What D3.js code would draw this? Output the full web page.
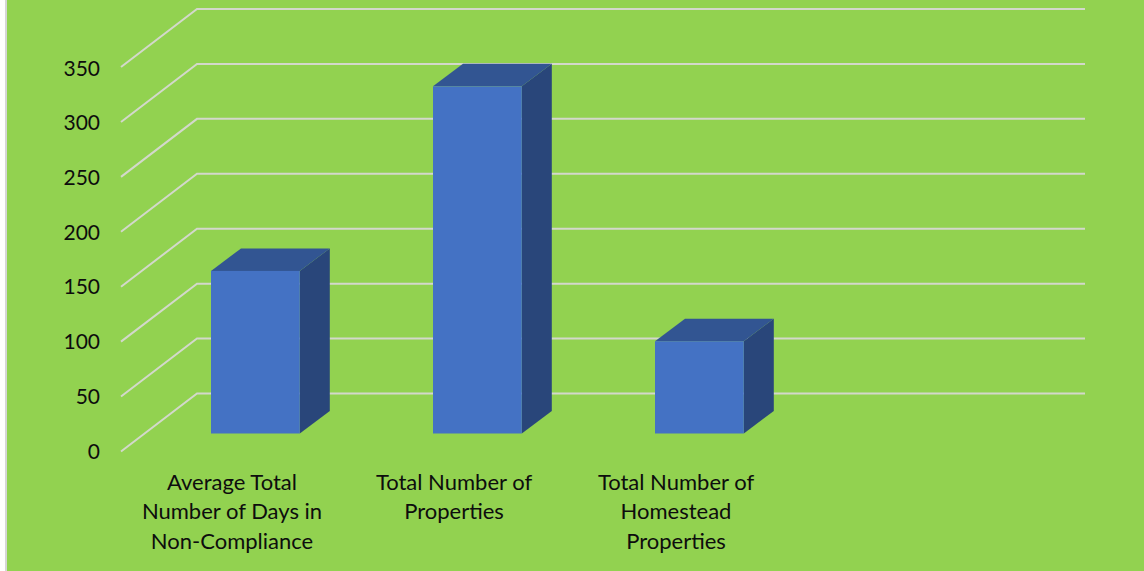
<!DOCTYPE html>
<html>
<head>
<meta charset="utf-8">
<script src="https://d3js.org/d3.v7.min.js"></script>
<style>
  html, body { margin: 0; padding: 0; background: #fff; overflow: hidden; }
  text { font-family: Lato, "Open Sans", sans-serif; fill: #0d0d0d; }
</style>
</head>
<body>
<div id="chart"></div>
<script>
// chart data
var categories = ["Average Total Number of Days in Non-Compliance", "Total Number of Properties", "Total Number of Homestead Properties", ""];
var catLines = [["Average Total", "Number of Days in", "Non-Compliance"], ["Total Number of", "Properties"], ["Total Number of", "Homestead", "Properties"], []];
var values = [148, 316, 84];
var yTicks = [0, 50, 100, 150, 200, 250, 300, 350];

var width = 1144, height = 571;
var green = "#92d250", gridColor = "#d3d8cb";
var front = "#4472c4", topFace = "#325592", sideFace = "#29467a";

// the walls: front edge of the floor and how far back it goes
var plot = {left: 121, right: 1009, y0: 451.5, y350: 67};
var depth = {x: 76, y: -58};
var inset = {x: 23.4, y: -18};
var barDepth = {x: 30, y: -22.5};

var svg = d3.select("#chart").append("svg")
    .attr("width", width)
    .attr("height", height)
    .style("display", "block");

svg.append("rect").attr("x", 5).attr("y", 0).attr("width", width - 5).attr("height", height).attr("fill", "#d6d6d6");
svg.append("rect").attr("x", 7).attr("y", 0).attr("width", width - 7).attr("height", height).attr("fill", green);

var x = d3.scaleBand()
    .domain(categories)
    .range([plot.left, plot.right])
    .paddingInner(0.6)
    .paddingOuter(0.3);

var y = d3.scaleLinear()
    .domain([0, 350])
    .range([plot.y0, plot.y350]);

// tick labels sit a little tighter than the gridlines
var yLabel = d3.scaleLinear()
    .domain([0, 350])
    .range([458.5, 75.5]);

var line = d3.line();

// gridlines: up the side wall then along the back wall
svg.append("g").selectAll("path")
    .data(yTicks)
    .enter().append("path")
    .attr("fill", "none")
    .attr("stroke", gridColor)
    .attr("stroke-width", 2)
    .attr("d", function(d) {
      return line([
        [plot.left, y(d)],
        [plot.left + depth.x, y(d) + depth.y],
        [plot.right + depth.x, y(d) + depth.y]
      ]);
    });

svg.append("g").selectAll("text")
    .data(yTicks)
    .enter().append("text")
    .attr("x", 100)
    .attr("y", function(d) { return yLabel(d); })
    .attr("text-anchor", "end")
    .style("font-size", "21px")
    .text(function(d) { return d; });

var bars = svg.append("g").selectAll("g")
    .data(values)
    .enter().append("g");

function barBox(d, i) {
  var x0 = x(categories[i]) + inset.x;
  return {x0: x0, x1: x0 + x.bandwidth(), yb: y(0) + inset.y, yt: y(d) + inset.y};
}

bars.append("path")
    .attr("fill", sideFace)
    .attr("d", function(d, i) {
      var b = barBox(d, i);
      return line([[b.x1, b.yt], [b.x1 + barDepth.x, b.yt + barDepth.y], [b.x1 + barDepth.x, b.yb + barDepth.y], [b.x1, b.yb]]) + "Z";
    });

bars.append("path")
    .attr("fill", topFace)
    .attr("d", function(d, i) {
      var b = barBox(d, i);
      return line([[b.x0, b.yt], [b.x0 + barDepth.x, b.yt + barDepth.y], [b.x1 + barDepth.x, b.yt + barDepth.y], [b.x1, b.yt]]) + "Z";
    });

bars.append("rect")
    .attr("fill", front)
    .attr("x", function(d, i) { return barBox(d, i).x0; })
    .attr("y", function(d, i) { return barBox(d, i).yt; })
    .attr("width", x.bandwidth())
    .attr("height", function(d, i) { var b = barBox(d, i); return b.yb - b.yt; });

// category labels, centred on the band
var labels = svg.append("g").selectAll("text")
    .data(catLines)
    .enter().append("text")
    .attr("text-anchor", "middle")
    .style("font-size", "22px");

labels.selectAll("tspan")
    .data(function(d, i) {
      return d.map(function(t, j) { return {t: t, j: j, c: categories[i]}; });
    })
    .enter().append("tspan")
    .attr("x", function(d) { return x(d.c) + x.bandwidth() / 2; })
    .attr("y", function(d) { return 489.5 + d.j * 29.7; })
    .text(function(d) { return d.t; });
</script>
</body>
</html>
